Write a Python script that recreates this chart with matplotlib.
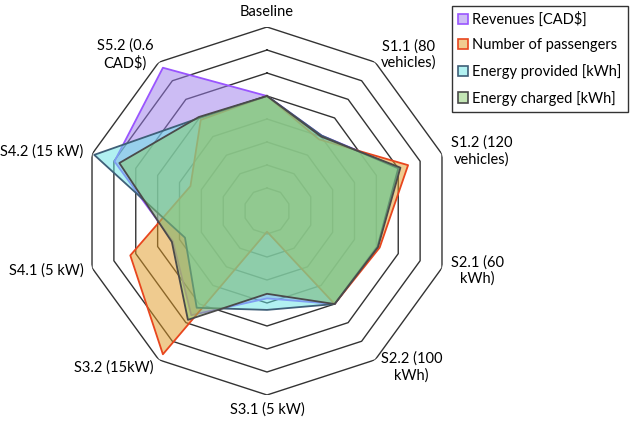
import matplotlib.pyplot as plt
import numpy as np
from matplotlib.patches import Patch
from matplotlib.colors import to_rgb

plt.rcParams['font.family'] = ['Lato', 'DejaVu Sans']

categories = ['Baseline', 'S1.1 (80\nvehicles)', 'S1.2 (120\nvehicles)', 'S2.1 (60\nkWh)',
              'S2.2 (100\nkWh)', 'S3.1 (5 kW)', 'S3.2 (15kW)', 'S4.1 (5 kW)',
              'S4.2 (15 kW)', 'S5.2 (0.6\nCAD$)']
revenues = [1.0, 0.81, 1.21, 1.01, 1.0, 0.76, 1.12, 0.86, 1.395, 1.54]
passengers = [1.0, 0.77, 1.29, 1.03, 1.0, 0.18, 1.54, 1.25, 0.70, 0.98]
energy_provided = [1.0, 0.81, 1.20, 1.01, 1.0, 0.86, 1.04, 0.75, 1.58, 1.0]
energy_charged = [1.0, 0.80, 1.22, 1.015, 1.0, 0.72, 1.17, 0.87, 1.35, 1.01]
rings = [0.2, 0.4, 0.6, 0.8, 1.0, 1.2, 1.4, 1.6]

series = [
    ('Revenues [CAD$]', revenues, '#9b7beb', '#9a55ff'),
    ('Number of passengers', passengers, '#e19921', '#e8461e'),
    ('Energy provided [kWh]', energy_provided, '#65e5e5', '#3f5f78'),
    ('Energy charged [kWh]', energy_charged, '#86cc6a', '#4a4a4a'),
]

n = len(categories)
theta = np.linspace(0, 2 * np.pi, n, endpoint=False)
theta_c = np.append(theta, theta[0])

fig = plt.figure(figsize=(6.33, 4.22), dpi=100)
ax = fig.add_axes([0.1311, 0.064, 0.5814, 0.872], projection='polar')
ax.set_theta_zero_location('N')
ax.set_theta_direction(-1)
ax.set_ylim(0, 1.6)
ax.axis('off')

# decagon grid
for r in rings:
    ax.plot(theta_c, [r] * (n + 1), color='#333333', lw=1.0, zorder=1)

handles = []
for i, (label, vals, fc, ec) in enumerate(series):
    v = np.append(vals, vals[0])
    ax.fill(theta_c, v, facecolor=fc, alpha=0.5, zorder=2 + 2 * i)
    ax.plot(theta_c, v, color=ec, lw=1.3, zorder=3 + 2 * i)
    tint = 0.5 * np.array(to_rgb(fc)) + 0.5
    handles.append(Patch(facecolor=tint, edgecolor=ec, lw=1.2, label=label))

for t, lab in zip(theta, categories):
    deg = np.degrees(t) % 360
    if deg == 0 or deg == 180:
        ax.text(t, 1.73, lab, ha='center', va='center', fontsize=10.5)
    elif deg < 180:
        ax.text(t, 1.68, lab, ha='left', va='center', fontsize=10.5, multialignment='center')
    else:
        ax.text(t, 1.68, lab, ha='right', va='center', fontsize=10.5, multialignment='center')

leg = fig.legend(handles=handles, loc='upper right', bbox_to_anchor=(0.996, 0.993),
                 fontsize=10.5, handlelength=0.7, handleheight=0.7, handletextpad=0.3,
                 labelspacing=0.8, borderpad=0.4, borderaxespad=0.2,
                 fancybox=False, framealpha=1)
leg.get_frame().set_edgecolor('#333333')
leg.get_frame().set_linewidth(1.0)

fig.savefig('out.png', dpi=100)
